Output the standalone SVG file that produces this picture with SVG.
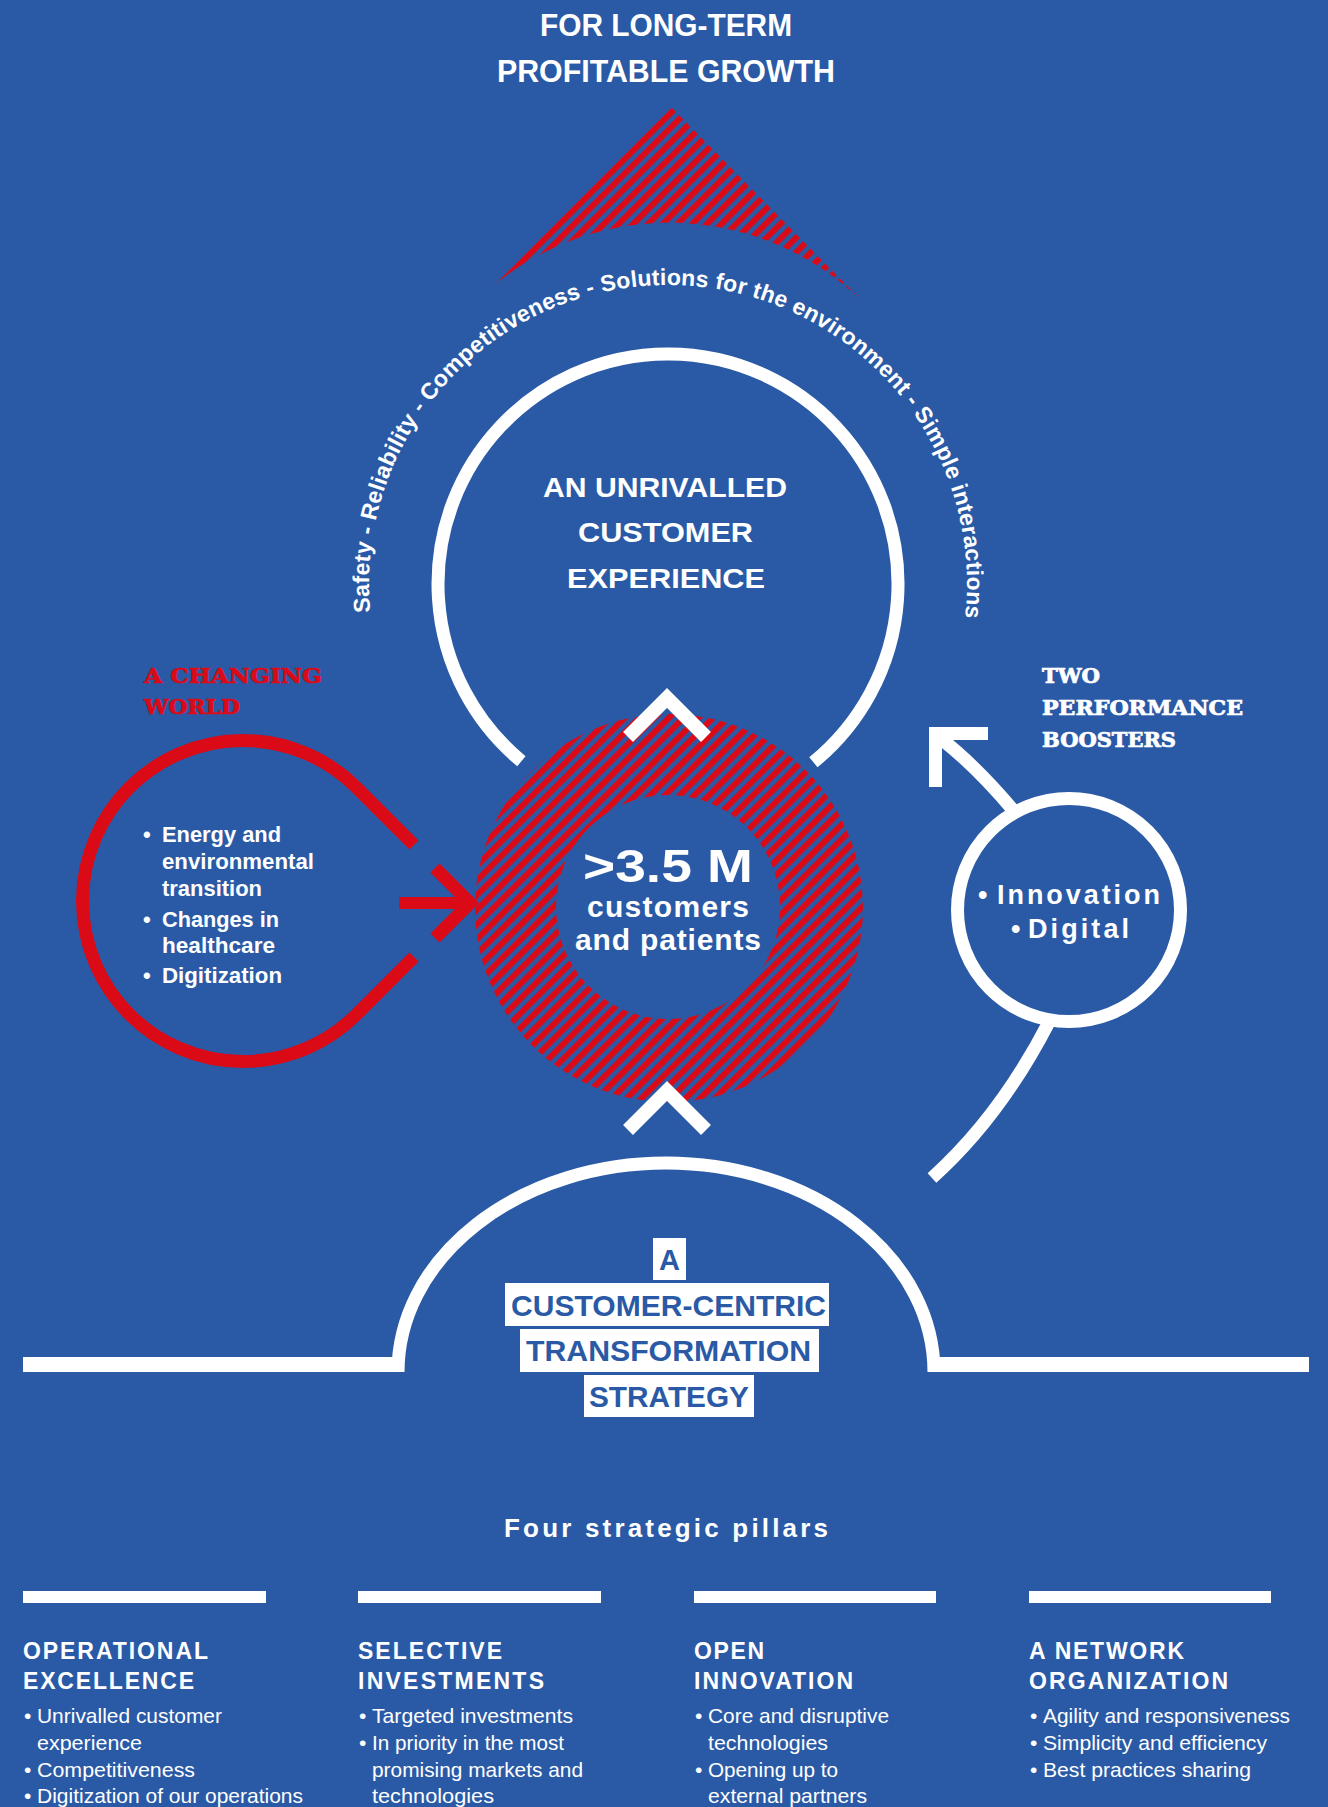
<svg xmlns="http://www.w3.org/2000/svg" width="1328" height="1807" viewBox="0 0 1328 1807">
<style>
.bg{fill:#2a5aa6}
.w{fill:#ffffff}
.ws{fill:none;stroke:#ffffff;stroke-width:13;stroke-linecap:butt;stroke-linejoin:miter}
.rs{fill:none;stroke:#da0a16;stroke-width:13;stroke-linecap:butt;stroke-linejoin:miter}
.cb{font-family:"Liberation Sans",Arial,sans-serif;font-weight:bold;fill:#ffffff}
.arc{font-family:"Liberation Sans",Arial,sans-serif;font-weight:bold;font-size:23px;letter-spacing:0.2px;font-kerning:none;fill:#ffffff}
.slab{font-family:"DejaVu Serif Condensed","DejaVu Serif","Liberation Serif",serif;font-weight:bold;font-size:21px;stroke-width:0.7px}
.lb{font-family:"Liberation Sans",Arial,sans-serif;font-weight:bold;font-size:22px;fill:#ffffff}
.ph{font-family:"Liberation Sans",Arial,sans-serif;font-weight:bold;font-size:23px;fill:#ffffff}
.pt{font-family:"Liberation Sans",Arial,sans-serif;font-size:21px;fill:#ffffff}
.bx{font-family:"Liberation Sans",Arial,sans-serif;font-weight:bold;font-size:30px;fill:#2a5aa6}
</style>
<defs>
<pattern id="hatch" patternUnits="userSpaceOnUse" width="10.4" height="10.4" patternTransform="rotate(45)">
<rect x="0" y="0" width="6" height="10.4" fill="#da0a16"/>
</pattern>
<path id="arcPath" d="M 370.3,612.1 A 299 299 0 1 1 960.5,645.9"/>
</defs>
<rect class="bg" x="0" y="0" width="1328" height="1807"/>

<g id="title">
<text class="cb" x="540" y="36" font-size="31" textLength="252" lengthAdjust="spacingAndGlyphs">FOR LONG-TERM</text>
<text class="cb" x="497" y="82" font-size="31" textLength="338" lengthAdjust="spacingAndGlyphs">PROFITABLE GROWTH</text>
</g>

<g id="growth-arrow">
<path d="M 467,310 L 670,106 L 862,301 A 277 277 0 0 0 467,310 Z" fill="url(#hatch)"/>
</g>

<g id="values-arc">
<text class="arc"><textPath href="#arcPath" startOffset="0">Safety - Reliability -</textPath></text>
<text class="arc"><textPath href="#arcPath" startOffset="222.9">Competitiveness - Solutions for the environment</textPath></text>
<text class="arc"><textPath href="#arcPath" startOffset="770.5">- Simple interactions</textPath></text>
</g>

<g id="customer-experience">
<path class="ws" d="M 521.4,761.2 A 230 230 0 1 1 813.4,762.2"/>
<text class="cb" x="543" y="497" font-size="28" textLength="244" lengthAdjust="spacingAndGlyphs">AN UNRIVALLED</text>
<text class="cb" x="578" y="542" font-size="28" textLength="175" lengthAdjust="spacingAndGlyphs">CUSTOMER</text>
<text class="cb" x="567" y="588" font-size="28" textLength="198" lengthAdjust="spacingAndGlyphs">EXPERIENCE</text>
</g>

<g id="customers-ring">
<path d="M 669,714 A 194 194 0 1 1 668.9,714 Z M 668,795 A 112 112 0 1 0 668.1,795 Z" fill="url(#hatch)" fill-rule="evenodd"/>
<text class="cb" x="583" y="882" font-size="47" textLength="170" lengthAdjust="spacingAndGlyphs">&gt;3.5 M</text>
<text class="cb" x="587" y="917" font-size="30" textLength="162" lengthAdjust="spacing">customers</text>
<text class="cb" x="575" y="950" font-size="30" textLength="186" lengthAdjust="spacing">and patients</text>
</g>

<g id="changing-world">
<text class="slab" x="144" y="683" fill="#da0a16" stroke="#da0a16" textLength="178" lengthAdjust="spacingAndGlyphs">A CHANGING</text>
<text class="slab" x="144" y="714" fill="#da0a16" stroke="#da0a16" textLength="96" lengthAdjust="spacingAndGlyphs">WORLD</text>
<path class="rs" d="M 414,845 L 356.5,787.5 A 160.5 160.5 0 1 0 356.5,1014.5 L 414,957"/>
<text class="lb" x="143" y="842">•</text>
<text class="lb" x="162" y="842" textLength="119" lengthAdjust="spacingAndGlyphs">Energy and</text>
<text class="lb" x="162" y="869" textLength="152" lengthAdjust="spacingAndGlyphs">environmental</text>
<text class="lb" x="162" y="896" textLength="100" lengthAdjust="spacingAndGlyphs">transition</text>
<text class="lb" x="143" y="927">•</text>
<text class="lb" x="162" y="927" textLength="117" lengthAdjust="spacingAndGlyphs">Changes in</text>
<text class="lb" x="162" y="953" textLength="113" lengthAdjust="spacingAndGlyphs">healthcare</text>
<text class="lb" x="143" y="983">•</text>
<text class="lb" x="162" y="983" textLength="120" lengthAdjust="spacingAndGlyphs">Digitization</text>
</g>

<g id="boosters">
<text class="slab" x="1042" y="683" fill="#ffffff" stroke="#ffffff" textLength="58" lengthAdjust="spacingAndGlyphs">TWO</text>
<text class="slab" x="1042" y="715" fill="#ffffff" stroke="#ffffff" textLength="201" lengthAdjust="spacingAndGlyphs">PERFORMANCE</text>
<text class="slab" x="1042" y="747" fill="#ffffff" stroke="#ffffff" textLength="134" lengthAdjust="spacingAndGlyphs">BOOSTERS</text>
<circle class="ws" cx="1069" cy="910" r="111.5"/>
<text class="cb" x="978" y="904" font-size="27">•</text>
<text class="cb" x="997" y="904" font-size="27" textLength="163" lengthAdjust="spacing">Innovation</text>
<text class="cb" x="1011" y="938" font-size="27">•</text>
<text class="cb" x="1028" y="938" font-size="27" textLength="101" lengthAdjust="spacing">Digital</text>
</g>

<g id="strategy">
<rect class="w" x="23" y="1357" width="377" height="15"/>
<rect class="w" x="932" y="1357" width="377" height="15"/>
<path class="ws" d="M 398,1372 A 268 209 0 0 1 934,1372"/>
<rect class="w" x="653" y="1238" width="33" height="42"/>
<rect class="w" x="505" y="1283" width="324" height="43"/>
<rect class="w" x="520" y="1329" width="299" height="43"/>
<rect class="w" x="584" y="1375" width="170" height="42"/>
<text class="bx" x="659" y="1270" textLength="21" lengthAdjust="spacingAndGlyphs">A</text>
<text class="bx" x="511" y="1316" textLength="315" lengthAdjust="spacingAndGlyphs">CUSTOMER-CENTRIC</text>
<text class="bx" x="526" y="1361" textLength="285" lengthAdjust="spacingAndGlyphs">TRANSFORMATION</text>
<text class="bx" x="589" y="1407" textLength="160" lengthAdjust="spacingAndGlyphs">STRATEGY</text>
</g>

<g id="connectors">
<polyline class="ws" style="stroke-width:14" points="628,737 667,698 706,737"/>
<polyline class="ws" style="stroke-width:14" points="628,1130 667,1091 706,1130"/>
<line x1="399" y1="903" x2="468" y2="903" stroke="#da0a16" stroke-width="12"/>
<polyline class="rs" points="435,868 470,903 435,938"/>
<path class="ws" d="M 1013,810 Q 976,766 940,738"/>
<polyline class="ws" points="988,733.5 935.5,733.5 935.5,787"/>
<path class="ws" d="M 932,1178 Q 1000,1117 1049,1022"/>
</g>

<g id="pillars">
<text class="cb" x="504" y="1537" font-size="26" textLength="324" lengthAdjust="spacing">Four strategic pillars</text>
<rect class="w" x="23" y="1591" width="243" height="12"/>
<rect class="w" x="358" y="1591" width="243" height="12"/>
<rect class="w" x="694" y="1591" width="242" height="12"/>
<rect class="w" x="1029" y="1591" width="242" height="12"/>
</g>

<g id="pillar-operational">
<text class="ph" x="23" y="1659" textLength="185" lengthAdjust="spacing">OPERATIONAL</text>
<text class="ph" x="23" y="1689" textLength="171" lengthAdjust="spacing">EXCELLENCE</text>
<text class="pt" x="24" y="1723">•</text><text class="pt" x="37" y="1723" textLength="185" lengthAdjust="spacingAndGlyphs">Unrivalled customer</text>
<text class="pt" x="37" y="1750" textLength="105" lengthAdjust="spacingAndGlyphs">experience</text>
<text class="pt" x="24" y="1777">•</text><text class="pt" x="37" y="1777" textLength="158" lengthAdjust="spacingAndGlyphs">Competitiveness</text>
<text class="pt" x="24" y="1803">•</text><text class="pt" x="37" y="1803" textLength="266" lengthAdjust="spacingAndGlyphs">Digitization of our operations</text>
</g>

<g id="pillar-investments">
<text class="ph" x="358" y="1659" textLength="144" lengthAdjust="spacing">SELECTIVE</text>
<text class="ph" x="358" y="1689" textLength="186" lengthAdjust="spacing">INVESTMENTS</text>
<text class="pt" x="359" y="1723">•</text><text class="pt" x="372" y="1723" textLength="201" lengthAdjust="spacingAndGlyphs">Targeted investments</text>
<text class="pt" x="359" y="1750">•</text><text class="pt" x="372" y="1750" textLength="192" lengthAdjust="spacingAndGlyphs">In priority in the most</text>
<text class="pt" x="372" y="1777" textLength="211" lengthAdjust="spacingAndGlyphs">promising markets and</text>
<text class="pt" x="372" y="1803" textLength="122" lengthAdjust="spacingAndGlyphs">technologies</text>
</g>

<g id="pillar-innovation">
<text class="ph" x="694" y="1659" textLength="70" lengthAdjust="spacing">OPEN</text>
<text class="ph" x="694" y="1689" textLength="159" lengthAdjust="spacing">INNOVATION</text>
<text class="pt" x="695" y="1723">•</text><text class="pt" x="708" y="1723" textLength="181" lengthAdjust="spacingAndGlyphs">Core and disruptive</text>
<text class="pt" x="708" y="1750" textLength="120" lengthAdjust="spacingAndGlyphs">technologies</text>
<text class="pt" x="695" y="1777">•</text><text class="pt" x="708" y="1777" textLength="130" lengthAdjust="spacingAndGlyphs">Opening up to</text>
<text class="pt" x="708" y="1803" textLength="159" lengthAdjust="spacingAndGlyphs">external partners</text>
</g>

<g id="pillar-network">
<text class="ph" x="1029" y="1659" textLength="155" lengthAdjust="spacing">A NETWORK</text>
<text class="ph" x="1029" y="1689" textLength="199" lengthAdjust="spacing">ORGANIZATION</text>
<text class="pt" x="1030" y="1723">•</text><text class="pt" x="1043" y="1723" textLength="247" lengthAdjust="spacingAndGlyphs">Agility and responsiveness</text>
<text class="pt" x="1030" y="1750">•</text><text class="pt" x="1043" y="1750" textLength="224" lengthAdjust="spacingAndGlyphs">Simplicity and efficiency</text>
<text class="pt" x="1030" y="1777">•</text><text class="pt" x="1043" y="1777" textLength="208" lengthAdjust="spacingAndGlyphs">Best practices sharing</text>
</g>
</svg>
